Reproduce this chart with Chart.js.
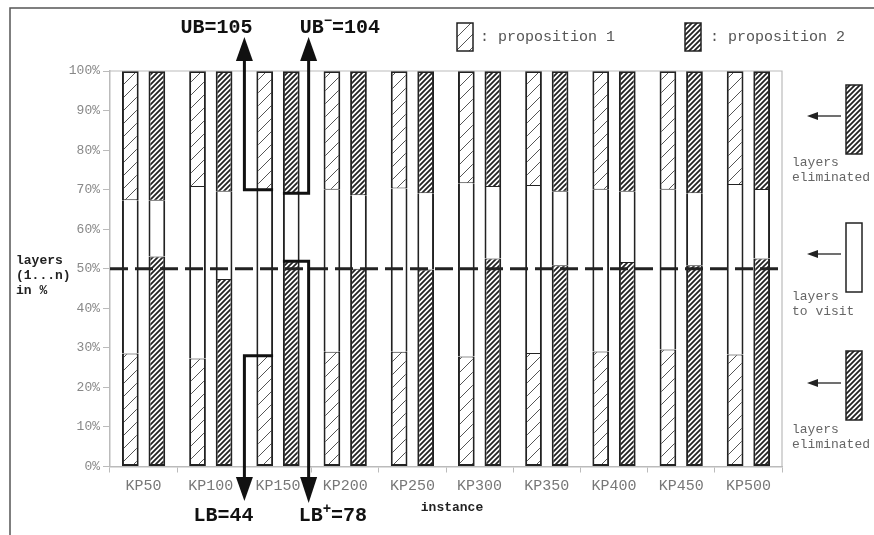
<!DOCTYPE html>
<html>
<head>
<meta charset="utf-8">
<script src="https://cdn.jsdelivr.net/npm/chart.js@4/dist/chart.umd.min.js"></script>
<style>
  body { margin: 0; background: #fff; }
  canvas { display: block; }
</style>
</head>
<body>
<canvas id="chart" width="874" height="535"></canvas>
<script>
const instances = ["KP50", "KP100", "KP150", "KP200", "KP250", "KP300", "KP350", "KP400", "KP450", "KP500"];

// boundaries (% of layers)
const prop1Lower = [28.6, 27.3, 28.0, 29.0, 29.0, 27.8, 28.7, 29.1, 29.6, 28.3];
const prop1Upper = [67.3, 70.7, 70.0, 70.0, 70.3, 71.6, 70.9, 70.0, 70.0, 71.2];
const prop2Lower = [53.1, 47.4, 51.9, 50.0, 49.8, 52.6, 50.9, 51.7, 50.9, 52.6];
const prop2Upper = [67.2, 69.5, 69.1, 68.6, 69.1, 70.7, 69.5, 69.5, 69.1, 69.9];

const yTicks = [0, 10, 20, 30, 40, 50, 60, 70, 80, 90, 100];

const MONO = "'Liberation Mono', 'DejaVu Sans Mono', monospace";

function makePattern(size, lineWidth, color) {
  const c = document.createElement("canvas");
  c.width = size;
  c.height = size;
  const g = c.getContext("2d");
  g.fillStyle = "#fff";
  g.fillRect(0, 0, size, size);
  g.strokeStyle = color;
  g.lineWidth = lineWidth;
  g.beginPath();
  g.moveTo(-1, size + 1);
  g.lineTo(size + 1, -1);
  g.moveTo(-2, 2);
  g.lineTo(2, -2);
  g.moveTo(size - 2, size + 2);
  g.lineTo(size + 2, size - 2);
  g.stroke();
  return document.getElementById("chart").getContext("2d").createPattern(c, "repeat");
}

const sparseHatch = makePattern(13, 1, "#555");
const denseHatch = makePattern(5, 1.8, "#222");

const lowBorder = { left: 2, right: 2, bottom: 2, top: 1 };
const midBorder = { left: 2, right: 2, bottom: 0, top: 0 };
const topBorder = { left: 2, right: 2, bottom: 1, top: 2 };

function seg(label, data, fill, border, stack) {
  return {
    label: label,
    data: data,
    stack: stack,
    backgroundColor: fill,
    borderColor: "#222",
    borderWidth: border,
    borderSkipped: false,
    categoryPercentage: 0.79,
    barPercentage: 0.63
  };
}

const datasets = [
  seg("p1 eliminated low", prop1Lower, sparseHatch, lowBorder, "p1"),
  seg("p1 to visit", prop1Upper.map((v, i) => v - prop1Lower[i]), "#fff", midBorder, "p1"),
  seg("p1 eliminated high", prop1Upper.map(v => 100 - v), sparseHatch, topBorder, "p1"),
  seg("p2 eliminated low", prop2Lower, denseHatch, lowBorder, "p2"),
  seg("p2 to visit", prop2Upper.map((v, i) => v - prop2Lower[i]), "#fff", midBorder, "p2"),
  seg("p2 eliminated high", prop2Upper.map(v => 100 - v), denseHatch, topBorder, "p2")
];

function arrowHead(ctx, x, tipY, baseY, half) {
  ctx.beginPath();
  ctx.moveTo(x, tipY);
  ctx.lineTo(x - half, baseY);
  ctx.lineTo(x + half, baseY);
  ctx.closePath();
  ctx.fill();
}

function smallArrow(ctx, x1, x2, y) {
  ctx.strokeStyle = "#222";
  ctx.fillStyle = "#222";
  ctx.lineWidth = 1.3;
  ctx.beginPath();
  ctx.moveTo(x1, y);
  ctx.lineTo(x2 + 6, y);
  ctx.stroke();
  ctx.beginPath();
  ctx.moveTo(x2, y);
  ctx.lineTo(x2 + 11, y - 4);
  ctx.lineTo(x2 + 11, y + 4);
  ctx.closePath();
  ctx.fill();
}

function legendBox(ctx, x, y, w, h, fill) {
  ctx.fillStyle = fill;
  ctx.fillRect(x, y, w, h);
  ctx.strokeStyle = "#222";
  ctx.lineWidth = 1.5;
  ctx.strokeRect(x, y, w, h);
}

// text with one superscript part: [before, sup, after]
function supText(ctx, parts, x, y, size) {
  ctx.textAlign = "left";
  ctx.textBaseline = "middle";
  ctx.font = "bold " + size + "px " + MONO;
  ctx.fillText(parts[0], x, y);
  x += ctx.measureText(parts[0]).width;
  ctx.font = "bold " + Math.round(size * 0.7) + "px " + MONO;
  ctx.fillText(parts[1], x, y - size * 0.35);
  x += ctx.measureText(parts[1]).width;
  ctx.font = "bold " + size + "px " + MONO;
  ctx.fillText(parts[2], x, y);
}

const decorations = {
  id: "decorations",
  afterDraw(chart) {
    const ctx = chart.ctx;
    const area = chart.chartArea;
    const xs = chart.scales.x;
    const ys = chart.scales.y;
    ctx.save();

    // outer frame
    ctx.strokeStyle = "#555";
    ctx.lineWidth = 1.5;
    ctx.beginPath();
    ctx.moveTo(10, 535);
    ctx.lineTo(10, 8);
    ctx.lineTo(874, 8);
    ctx.stroke();

    // plot box top and right
    ctx.strokeStyle = "#bbb";
    ctx.lineWidth = 1.2;
    ctx.beginPath();
    ctx.moveTo(area.left, area.top);
    ctx.lineTo(area.right, area.top);
    ctx.lineTo(area.right, area.bottom);
    ctx.stroke();

    // dashed 50% line
    const y50 = ys.getPixelForValue(50);
    ctx.strokeStyle = "#222";
    ctx.lineWidth = 3;
    ctx.setLineDash([18, 7]);
    ctx.beginPath();
    ctx.moveTo(area.left, y50);
    ctx.lineTo(area.right, y50);
    ctx.stroke();
    ctx.setLineDash([]);

    // bound arrows around KP150
    const k = 2;
    const catW = (xs.right - xs.left) / instances.length;
    const b1 = chart.getDatasetMeta(0).data[k];
    const b2 = chart.getDatasetMeta(3).data[k];
    const p1Right = b1.x + b1.width / 2;
    const p2Left = b2.x - b2.width / 2;
    const xa = xs.getPixelForValue(k) - catW / 2;
    const xb = b2.x + b2.width / 2 + 9;
    const yUB = ys.getPixelForValue(prop1Upper[k]);
    const yLB = ys.getPixelForValue(prop1Lower[k]);
    const yUBm = ys.getPixelForValue(prop2Upper[k]);
    const yLBp = ys.getPixelForValue(prop2Lower[k]);

    ctx.strokeStyle = "#111";
    ctx.fillStyle = "#111";
    ctx.lineWidth = 3;
    ctx.lineJoin = "miter";
    ctx.beginPath();
    ctx.moveTo(xa, 58);
    ctx.lineTo(xa, yUB);
    ctx.lineTo(p1Right, yUB);
    ctx.moveTo(p1Right, yLB);
    ctx.lineTo(xa, yLB);
    ctx.lineTo(xa, 480);
    ctx.moveTo(xb, 58);
    ctx.lineTo(xb, yUBm);
    ctx.lineTo(p2Left, yUBm);
    ctx.moveTo(p2Left, yLBp);
    ctx.lineTo(xb, yLBp);
    ctx.lineTo(xb, 480);
    ctx.stroke();
    arrowHead(ctx, xa, 37, 61, 8.5);
    arrowHead(ctx, xb, 37, 61, 8.5);
    arrowHead(ctx, xa, 501, 477, 8.5);
    arrowHead(ctx, xb, 503, 477, 8.5);

    ctx.fillStyle = "#111";
    ctx.font = "bold 20px " + MONO;
    ctx.textAlign = "right";
    ctx.textBaseline = "middle";
    ctx.fillText("UB=105", xa + 8, 28);
    ctx.textAlign = "center";
    ctx.fillText("LB=44", xa - 21, 516);
    supText(ctx, ["UB", "\u2212", "=104"], xb - 9, 28, 20);
    supText(ctx, ["LB", "+", "=78"], xb - 10, 516, 20);

    // axis titles
    ctx.fillStyle = "#222";
    ctx.font = "bold 13px " + MONO;
    ctx.textAlign = "left";
    ctx.fillText("layers", 16, 261);
    ctx.fillText("(1...n)", 16, 276);
    ctx.fillText("in %", 16, 291);
    ctx.textAlign = "center";
    ctx.fillText("instance", 452, 508);

    // top legend
    legendBox(ctx, 457, 23, 16, 28, sparseHatch);
    legendBox(ctx, 685, 23, 16, 28, denseHatch);
    ctx.fillStyle = "#555";
    ctx.font = "15px " + MONO;
    ctx.textAlign = "left";
    ctx.fillText(": proposition 1", 480, 37);
    ctx.fillText(": proposition 2", 710, 37);

    // right side legend
    legendBox(ctx, 846, 85, 16, 69, denseHatch);
    legendBox(ctx, 846, 223, 16, 69, "#fff");
    legendBox(ctx, 846, 351, 16, 69, denseHatch);
    smallArrow(ctx, 841, 807, 116);
    smallArrow(ctx, 841, 807, 254);
    smallArrow(ctx, 841, 807, 383);
    ctx.fillStyle = "#666";
    ctx.font = "13px " + MONO;
    ctx.fillText("layers", 792, 163);
    ctx.fillText("eliminated", 792, 178);
    ctx.fillText("layers", 792, 297);
    ctx.fillText("to visit", 792, 312);
    ctx.fillText("layers", 792, 430);
    ctx.fillText("eliminated", 792, 445);

    ctx.restore();
  }
};

new Chart(document.getElementById("chart"), {
  type: "bar",
  data: {
    labels: instances,
    datasets: datasets
  },
  options: {
    responsive: false,
    animation: false,
    layout: {
      padding: { top: 71, right: 92, bottom: 0, left: 0 }
    },
    plugins: {
      legend: { display: false },
      tooltip: { enabled: false }
    },
    scales: {
      x: {
        stacked: true,
        afterFit: (s) => { s.height = 68.5; },
        grid: {
          drawOnChartArea: false,
          drawTicks: true,
          tickLength: 6,
          color: "#bbb"
        },
        border: { color: "#bbb", width: 1.5 },
        ticks: {
          color: "#777",
          padding: 5,
          font: { family: MONO, size: 15 }
        }
      },
      y: {
        stacked: true,
        min: 0,
        max: 100,
        afterFit: (s) => { s.width = 110; },
        afterBuildTicks: (s) => { s.ticks = yTicks.map(v => ({ value: v })); },
        grid: {
          drawOnChartArea: false,
          drawTicks: true,
          tickLength: 7,
          color: "#bbb"
        },
        border: { color: "#bbb", width: 1.5 },
        ticks: {
          color: "#888",
          padding: 3,
          font: { family: MONO, size: 13 },
          callback: (v) => v + "%"
        }
      }
    }
  },
  plugins: [decorations]
});
</script>
</body>
</html>
